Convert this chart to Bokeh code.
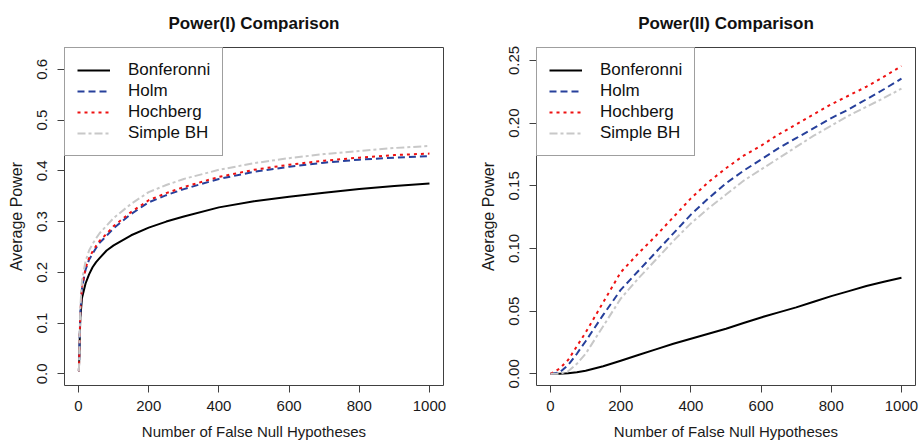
from bokeh.plotting import figure
from bokeh.models import Range1d, FixedTicker, PrintfTickFormatter
from bokeh.layouts import row
from bokeh.embed import file_html
from bokeh.resources import INLINE

methods = ["Bonferonni", "Holm", "Hochberg", "Simple BH"]
x_ticks = [0, 200, 400, 600, 800, 1000]

# ---- Power(I) ----
x1 = [1, 5, 10, 20, 30, 40, 50, 60, 80, 100, 150, 200, 250, 300, 400, 500, 600, 700, 800, 900, 1000]
p1_bonf = [0.005, 0.110, 0.150, 0.178, 0.196, 0.210, 0.220, 0.228, 0.243, 0.253, 0.273, 0.288, 0.300, 0.310,
           0.328, 0.340, 0.349, 0.357, 0.364, 0.370, 0.375]
p1_holm = [0.005, 0.120, 0.170, 0.205, 0.225, 0.237, 0.248, 0.258, 0.272, 0.287, 0.315, 0.338, 0.352, 0.364,
           0.384, 0.398, 0.408, 0.416, 0.422, 0.426, 0.429]
p1_hoch = [0.005, 0.120, 0.172, 0.208, 0.228, 0.241, 0.252, 0.262, 0.276, 0.291, 0.319, 0.342, 0.356, 0.368,
           0.388, 0.402, 0.412, 0.420, 0.426, 0.431, 0.434]
p1_bh = [0.005, 0.130, 0.185, 0.222, 0.243, 0.256, 0.267, 0.277, 0.292, 0.307, 0.335, 0.358, 0.372, 0.384,
         0.402, 0.415, 0.425, 0.433, 0.439, 0.445, 0.449]
y1_ticks = [0.0, 0.1, 0.2, 0.3, 0.4, 0.5, 0.6]

# ---- Power(II) ----
x2 = [0, 25, 50, 75, 100, 150, 200, 250, 300, 350, 400, 450, 500, 550, 600, 650, 700, 750, 800, 850, 900, 950, 1000]
p2_bonf = [0.0, 0.0001, 0.0005, 0.0013, 0.0025, 0.006, 0.0105, 0.015, 0.0195, 0.024, 0.028, 0.032, 0.036,
           0.0405, 0.045, 0.049, 0.053, 0.0575, 0.062, 0.066, 0.070, 0.0735, 0.0767]
p2_holm = [0.0, 0.001, 0.007, 0.016, 0.026, 0.047, 0.067, 0.082, 0.097, 0.112, 0.127, 0.140, 0.152,
           0.162, 0.171, 0.180, 0.188, 0.196, 0.204, 0.211, 0.219, 0.227, 0.2355]
p2_hoch = [0.0, 0.004, 0.011, 0.022, 0.033, 0.057, 0.081, 0.096, 0.110, 0.125, 0.140, 0.153, 0.164,
           0.174, 0.182, 0.191, 0.199, 0.207, 0.215, 0.222, 0.229, 0.237, 0.2455]
p2_bh = [0.0, 0.0, 0.002, 0.008, 0.016, 0.038, 0.060, 0.076, 0.091, 0.106, 0.120, 0.132, 0.143,
         0.154, 0.163, 0.172, 0.181, 0.190, 0.198, 0.206, 0.213, 0.220, 0.2275]
y2_ticks = [0.0, 0.05, 0.10, 0.15, 0.20, 0.25]

FONT = "Liberation Sans"
colors = ["#000000", "#27409B", "#EE1111", "#C8C8C8"]
dashes = ["solid", "7 4", "3 4", "8 3 3 3"]


def make_panel(title, xs, series, yr, yticks, yfmt, width, border_left, border_right):
    p = figure(width=width, height=442, output_backend="svg", toolbar_location=None,
               x_range=Range1d(-40, 1040), y_range=Range1d(*yr),
               min_border_left=border_left, min_border_right=border_right,
               min_border_top=47, min_border_bottom=55)
    p.title.text = title
    p.title.align = "center"
    p.title.vertical_align = "top"
    p.title.text_font = FONT
    p.title.text_font_size = "17px"
    p.title.text_font_style = "bold"
    p.title.text_color = "#111111"
    p.title.standoff = 26
    for name, ys, c, d in zip(methods, series, colors, dashes):
        p.line(xs, ys, line_color=c, line_width=2, line_dash=d, legend_label=name)
    p.grid.visible = False
    p.outline_line_color = "#404040"
    p.outline_line_width = 1
    p.background_fill_color = "white"
    p.border_fill_color = "white"

    for ax in (p.xaxis[0], p.yaxis[0]):
        ax.axis_line_color = None
        ax.minor_tick_line_color = None
        ax.major_tick_in = 0
        ax.major_tick_out = 7
        ax.major_tick_line_color = "#404040"
        ax.major_label_text_font = FONT
        ax.major_label_text_font_size = "15px"
        ax.major_label_text_color = "#1a1a1a"
        ax.axis_label_text_font = FONT
        ax.axis_label_text_font_style = "normal"
        ax.axis_label_text_color = "#1a1a1a"
    p.xaxis.ticker = FixedTicker(ticks=x_ticks)
    p.xaxis.axis_label = "Number of False Null Hypotheses"
    p.xaxis.axis_label_text_font_size = "15px"
    p.xaxis.major_label_standoff = 8
    p.xaxis.axis_label_standoff = 9
    p.yaxis.ticker = FixedTicker(ticks=yticks)
    p.yaxis.formatter = PrintfTickFormatter(format=yfmt)
    p.yaxis.major_label_orientation = "vertical"
    p.yaxis.axis_label = "Average Power"
    p.yaxis.axis_label_text_font_size = "16px"
    p.yaxis.major_label_standoff = 10
    p.yaxis.axis_label_standoff = 10

    lg = p.legend[0]
    lg.location = "top_left"
    lg.margin = 0
    lg.padding = 12
    lg.spacing = 1
    lg.glyph_width = 33
    lg.glyph_height = 20
    lg.label_height = 20
    lg.label_standoff = 18
    lg.label_text_font = FONT
    lg.label_text_font_size = "17px"
    lg.label_text_color = "#111111"
    lg.border_line_color = "#404040"
    lg.border_line_width = 1
    lg.background_fill_color = "white"
    lg.background_fill_alpha = 1.0
    return p


p1 = make_panel("Power(I) Comparison", x1, [p1_bonf, p1_holm, p1_hoch, p1_bh],
                (-0.023, 0.643), y1_ticks, "%.1f", 459, 64, 16)
p2 = make_panel("Power(II) Comparison", x2, [p2_bonf, p2_holm, p2_hoch, p2_bh],
                (-0.0093, 0.2603), y2_ticks, "%.2f", 460, 77, 4)

layout = row(p1, p2)
open("out.html", "w").write(file_html(layout, INLINE))
